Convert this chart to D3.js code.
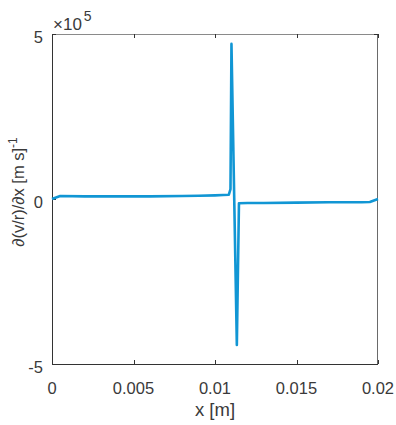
<!DOCTYPE html>
<html><head><meta charset="utf-8">
<script src="https://cdn.jsdelivr.net/npm/d3@7"></script>
<style>
html,body{margin:0;padding:0;background:#fff;}
text{font-family:"Liberation Sans",Arial,sans-serif;}
</style></head>
<body><svg id="c" width="396" height="425"></svg>
<script>
const xTicks = [0, 0.005, 0.01, 0.015, 0.02];
const xTickLabels = ["0", "0.005", "0.01", "0.015", "0.02"];
const yTicks = [-5, 0, 5];
const yTickLabels = ["-5", "0", "5"];
const xValues = [0, 0.0005, 0.002, 0.004, 0.006, 0.008, 0.009, 0.0100, 0.0105, 0.01085, 0.01095, 0.01101, 0.01134, 0.01147, 0.0120, 0.013, 0.015, 0.017, 0.019, 0.0195, 0.0200];
const yValues = [0.0, 0.09, 0.08, 0.08, 0.08, 0.09, 0.10, 0.11, 0.12, 0.13, 0.3, 4.70, -4.42, -0.13, -0.12, -0.12, -0.11, -0.10, -0.10, -0.09, 0.0];

const svg = d3.select("#c");
const L = 52, R = 378, T = 34, B = 364;
const x = d3.scaleLinear().domain([0, 0.02]).range([L, R]);
const y = d3.scaleLinear().domain([-5, 5]).range([B, T]);
const txt = "#3a3a3a";

// box
svg.append("line").attr("x1",L).attr("x2",R).attr("y1",T+0.5).attr("y2",T+0.5).attr("stroke","#8a8a8a");
svg.append("line").attr("x1",R-0.5).attr("x2",R-0.5).attr("y1",T).attr("y2",B).attr("stroke","#6a6a6a");

const tickLen = 4;
const g = svg.append("g");
xTicks.forEach((t,i)=>{
  const px = Math.round(x(t))+0.5;
  g.append("line").attr("x1",px).attr("x2",px).attr("y1",B).attr("y2",B-tickLen).attr("stroke","#333");
  g.append("line").attr("x1",px).attr("x2",px).attr("y1",T).attr("y2",T+tickLen).attr("stroke","#333");
  g.append("text").attr("x",x(t)).attr("y",B+30).attr("text-anchor","middle").attr("font-size",16.5).attr("fill",txt).text(xTickLabels[i]);
});
yTicks.forEach((t,i)=>{
  const py = Math.round(y(t))+0.5;
  g.append("line").attr("x1",L).attr("x2",L+tickLen).attr("y1",py).attr("y2",py).attr("stroke","#333");
  g.append("line").attr("x1",R).attr("x2",R-tickLen).attr("y1",py).attr("y2",py).attr("stroke","#333");
  g.append("text").attr("x",L-9).attr("y",y(t)+9).attr("text-anchor","end").attr("font-size",16.5).attr("fill",txt).text(yTickLabels[i]);
});
svg.append("line").attr("x1",L+0.5).attr("x2",L+0.5).attr("y1",T).attr("y2",B).attr("stroke","#333");
svg.append("line").attr("x1",L).attr("x2",R).attr("y1",B+0.5).attr("y2",B+0.5).attr("stroke","#333");

// exponent
const ex = svg.append("text").attr("x",L+1).attr("y",T-4).attr("font-size",17).attr("fill",txt);
ex.append("tspan").text("×10");
ex.append("tspan").attr("dx",2).attr("dy",-9).attr("font-size",14).text("5");

// labels
svg.append("text").attr("x",(L+R)/2).attr("y",416).attr("text-anchor","middle").attr("font-size",18.5).attr("fill",txt).text("x [m]");
const yl = svg.append("text").attr("transform",`translate(24,192) rotate(-90)`).attr("text-anchor","middle").attr("font-size",16.5).attr("fill",txt);
yl.append("tspan").text("∂(v/r)/∂x [m s]");
yl.append("tspan").attr("dy",-7).attr("font-size",12).text("-1");

// line
const line = d3.line().x((d,i)=>x(xValues[i])).y(d=>y(d));
svg.append("path").datum(yValues).attr("d",line).attr("fill","none").attr("stroke","#1196d4").attr("stroke-width",2.6).attr("stroke-linejoin","round");
</script></body></html>
